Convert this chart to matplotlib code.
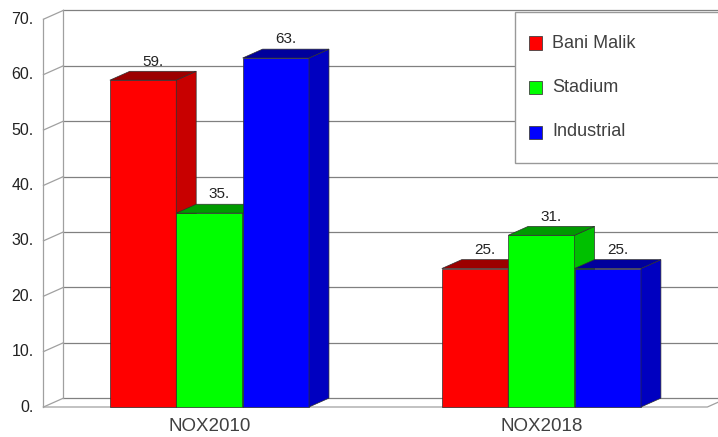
import numpy as np
import matplotlib.pyplot as plt
from matplotlib.patches import Polygon, Rectangle

plt.rcParams['font.family'] = ['Liberation Sans', 'DejaVu Sans']

categories = ['NOX2010', 'NOX2018']
sites = ['Bani Malik', 'Stadium', 'Industrial']
bani_malik = [59, 25]
stadium = [35, 31]
industrial = [63, 25]
y_ticks = [0, 10, 20, 30, 40, 50, 60, 70]

# front / top / side shades for each series
front_cols = ['#ff0000', '#00ff00', '#0000ff']
top_cols = ['#9c0000', '#009a00', '#00009c']
side_cols = ['#c80000', '#00c000', '#0000c0']

W = 0.2        # bar width (category units)
DX = 0.06      # depth offset in x
DY = 1.6       # depth offset in y (value units)
X_LEFT, X_RIGHT = -0.5, 1.5
Y_TOP = 70

fig = plt.figure(figsize=(7.18, 4.37), dpi=100)
ax = fig.add_axes([0, 0, 1, 1])
ax.set_xlim(-0.631, 1.532)
ax.set_ylim(-5.415, 73.47)
ax.axis('off')

wall = '#a0a0a0'
grid = '#808080'
# back wall grid + left wall diagonals
for t in y_ticks:
    ax.plot([X_LEFT + DX, X_RIGHT + DX], [t + DY, t + DY], color=grid, lw=0.9, zorder=1)
    ax.plot([X_LEFT, X_LEFT + DX], [t, t + DY], color=wall, lw=0.9, zorder=1)
    ax.text(X_LEFT - 0.03, t, f'{t}.', ha='right', va='center', fontsize=11.5, color='#222222')
ax.plot([X_LEFT, X_LEFT], [0, Y_TOP], color=wall, lw=0.9, zorder=1)
ax.plot([X_LEFT + DX, X_LEFT + DX], [DY, Y_TOP + DY], color=wall, lw=0.9, zorder=1)
# floor front edge
ax.plot([X_LEFT, X_RIGHT, X_RIGHT + DX], [0, 0, DY], color=wall, lw=0.9, zorder=1)

series = [bani_malik, stadium, industrial]
x = np.arange(len(categories))
for g in range(len(categories)):
    for i, vals in enumerate(series):
        v = vals[g]
        x0 = x[g] - 1.5 * W + i * W
        x1 = x0 + W
        z = 2 + i
        ax.bar(x0, v, width=W, align='edge', color=front_cols[i],
               edgecolor='#303030', linewidth=0.5, zorder=z)
        ax.add_patch(Polygon([(x1, 0), (x1 + DX, DY), (x1 + DX, v + DY), (x1, v)],
                             closed=True, facecolor=side_cols[i], edgecolor='#303030',
                             linewidth=0.5, zorder=z))
        ax.add_patch(Polygon([(x0, v), (x0 + DX, v + DY), (x1 + DX, v + DY), (x1, v)],
                             closed=True, facecolor=top_cols[i], edgecolor='#303030',
                             linewidth=0.5, zorder=z))
        ax.text(x0 + W / 2 + DX / 2, v + DY + 0.5, f'{v}.', ha='center', va='bottom',
                fontsize=11, color='#222222', zorder=10)

for g, name in enumerate(categories):
    ax.text(x[g], -3.6, name, ha='center', va='center', fontsize=13.5, color='#404040')

# legend box
ax.add_patch(Rectangle((515 / 718, 1 - 163 / 437), 0.3, 151 / 437, transform=ax.transAxes,
                       facecolor='white', edgecolor='#999999', linewidth=1, zorder=20))
for i, name in enumerate(sites):
    yc = 1 - (43 + i * 44.5) / 437
    ax.add_patch(Rectangle((529 / 718, yc - 6.5 / 437), 13 / 718, 13 / 437, transform=ax.transAxes,
                           facecolor=front_cols[i], edgecolor='#404040', linewidth=0.6, zorder=21))
    ax.text(552 / 718, yc, name, transform=ax.transAxes, ha='left', va='center',
            fontsize=13, color='#404040', zorder=22)

fig.savefig('out.png', dpi=100)
